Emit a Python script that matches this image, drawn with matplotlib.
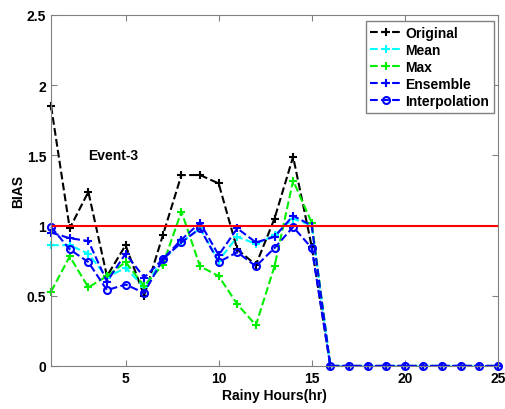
import numpy as np
import matplotlib.pyplot as plt

plt.rcParams["font.family"] = ["Liberation Sans", "DejaVu Sans"]
plt.rcParams["font.weight"] = "bold"

hours = np.arange(1, 26)

original = [1.85, 0.98, 1.24, 0.64, 0.86, 0.50, 0.93, 1.36, 1.36, 1.30, 0.83, 0.72, 1.05, 1.49, 0.85] + [0] * 10
mean = [0.86, 0.86, 0.80, 0.63, 0.70, 0.56, 0.76, 0.88, 0.98, 0.75, 0.92, 0.87, 0.93, 1.05, 1.00] + [0] * 10
maximum = [0.53, 0.78, 0.56, 0.64, 0.74, 0.57, 0.72, 1.10, 0.71, 0.64, 0.44, 0.29, 0.71, 1.32, 1.02] + [0] * 10
ensemble = [0.95, 0.91, 0.89, 0.60, 0.80, 0.63, 0.76, 0.90, 1.02, 0.79, 0.98, 0.88, 0.92, 1.07, 1.00] + [0] * 10
interp = [0.99, 0.83, 0.74, 0.54, 0.58, 0.52, 0.76, 0.88, 0.98, 0.74, 0.81, 0.71, 0.84, 0.99, 0.84] + [0] * 10

fig = plt.figure(figsize=(5.06, 4.10), dpi=100)
ax = fig.add_axes([0.101, 0.105, 0.883, 0.856])

style = dict(lw=1.5, mew=1.5, clip_on=False)
ax.plot(hours, original, "k--+", ms=6, label="Original", **style)
ax.plot(hours, mean, "--+", color="cyan", ms=6, label="Mean", **style)
ax.plot(hours, maximum, "--+", color="#00ee00", ms=6, label="Max", **style)
ax.plot(hours, ensemble, "--+", color="blue", ms=6, label="Ensemble", **style)
ax.plot(hours, interp, "--o", color="blue", ms=5, mfc="none", label="Interpolation", **style)
ax.axhline(1, color="red", lw=1.5)

ax.text(3.0, 1.5, "Event-3", fontsize=10, fontweight="bold", va="center")

ax.set_xlim(1, 25)
ax.set_ylim(0, 2.5)
ax.set_xticks([5, 10, 15, 20, 25])
ax.set_yticks([0, 0.5, 1, 1.5, 2, 2.5])
ax.set_yticklabels(["0", "0.5", "1", "1.5", "2", "2.5"])
ax.tick_params(direction="in", top=True, right=True, labelsize=10, color="#808080", length=4)
for s in ax.spines.values():
    s.set_color("#808080")

ax.set_xlabel("Rainy Hours(hr)", fontsize=10, fontweight="bold", labelpad=2)
ax.set_ylabel("BIAS", fontsize=10, fontweight="bold", labelpad=1)

leg = ax.legend(loc="upper right", fontsize=10, handlelength=2.2, handletextpad=0.3,
                borderpad=0.35, labelspacing=0.22, fancybox=False, framealpha=1,
                borderaxespad=0, bbox_to_anchor=(0.991, 0.983))
leg.get_frame().set_edgecolor("#808080")

fig.savefig("out.png", dpi=100)
